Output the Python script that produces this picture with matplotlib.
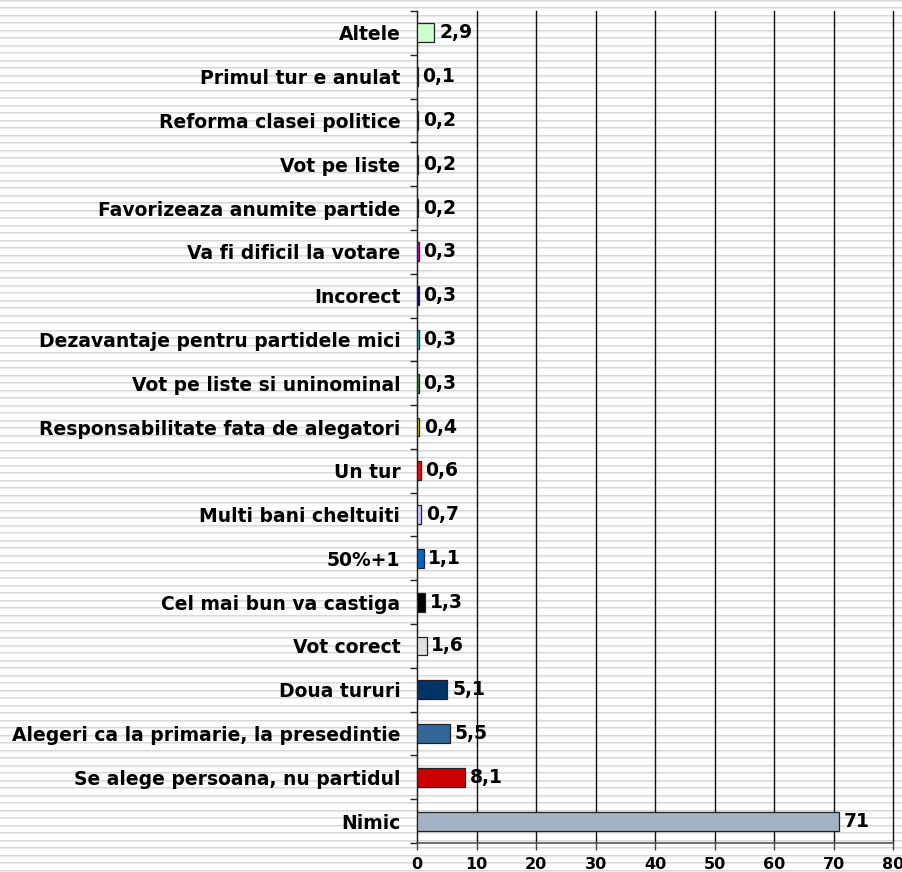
import numpy as np
import matplotlib
matplotlib.use("Agg")
import matplotlib.pyplot as plt

categories = ["Nimic", "Se alege persoana, nu partidul", "Alegeri ca la primarie, la presedintie",
              "Doua tururi", "Vot corect", "Cel mai bun va castiga", "50%+1", "Multi bani cheltuiti",
              "Un tur", "Responsabilitate fata de alegatori", "Vot pe liste si uninominal",
              "Dezavantaje pentru partidele mici", "Incorect", "Va fi dificil la votare",
              "Favorizeaza anumite partide", "Vot pe liste", "Reforma clasei politice",
              "Primul tur e anulat", "Altele"]
values = [71, 8.1, 5.5, 5.1, 1.6, 1.3, 1.1, 0.7, 0.6, 0.4, 0.3, 0.3, 0.3, 0.3, 0.2, 0.2, 0.2, 0.1, 2.9]
labels = ["71", "8,1", "5,5", "5,1", "1,6", "1,3", "1,1", "0,7", "0,6", "0,4", "0,3", "0,3", "0,3",
          "0,3", "0,2", "0,2", "0,2", "0,1", "2,9"]
colors = ["#a3b3c3", "#cc0000", "#336699", "#003366", "#e0e0e0", "#000000", "#0066cc", "#ccccff",
          "#ff0000", "#cccc00", "#339933", "#33cccc", "#000080", "#cc00cc", "#c0c0c0", "#c0c0c0",
          "#c0c0c0", "#c0c0c0", "#ccffcc"]
xticks = [0, 10, 20, 30, 40, 50, 60, 70, 80]

W, H = 903, 872
fig = plt.figure(figsize=(W / 100, H / 100), dpi=100)

# striped background
bg = np.ones((H, W, 3))
for r in range(H):
    m = r % 15
    if m in (0, 7):
        bg[r, :, :] = 0.85
    elif m in (1, 8):
        bg[r, :, :] = 0.92
    elif m == 2:
        bg[r, :, :] = 0.97
fig.figimage(bg, xo=0, yo=0, origin="upper", zorder=0)

ax = fig.add_axes([417 / W, 1 - 843 / H, (893 - 417) / W, (843 - 11) / H])
ax.set_zorder(2)
ax.patch.set_alpha(0)

y = np.arange(len(categories))
ax.barh(y, values, height=0.43, color=colors, edgecolor="#222222", linewidth=0.9, zorder=3)
for yi, v, lab in zip(y, values, labels):
    ax.text(v + 0.8, yi, lab, va="center", ha="left", fontsize=13.5, fontweight="bold",
            color="black", zorder=4)

ax.set_xlim(0, 80)
ax.set_ylim(-0.5, len(categories) - 0.5)
ax.set_xticks(xticks)
ax.set_xticklabels([str(t) for t in xticks], fontsize=11.5, fontweight="bold")
ax.set_yticks(y)
ax.set_yticklabels(categories, fontsize=13.5, fontweight="bold")
ax.tick_params(axis="y", length=0, pad=12)
ax.set_yticks(np.arange(-0.5, len(categories), 1), minor=True)
ax.tick_params(axis="y", which="minor", length=5, width=1, color="#222222", direction="out")
ax.tick_params(axis="x", length=5, width=1, color="#444444", direction="out", pad=5)

ax.grid(axis="x", color="#111111", linewidth=1, zorder=1)
for gl in ax.get_xgridlines():
    gl.set_clip_on(False)
ax.set_axisbelow(True)
for s in ["top", "right"]:
    ax.spines[s].set_visible(False)
ax.spines["left"].set_color("#222222")
ax.spines["bottom"].set_color("#555555")
ax.spines["bottom"].set_linewidth(1.2)

fig.savefig("out.png", dpi=100)
